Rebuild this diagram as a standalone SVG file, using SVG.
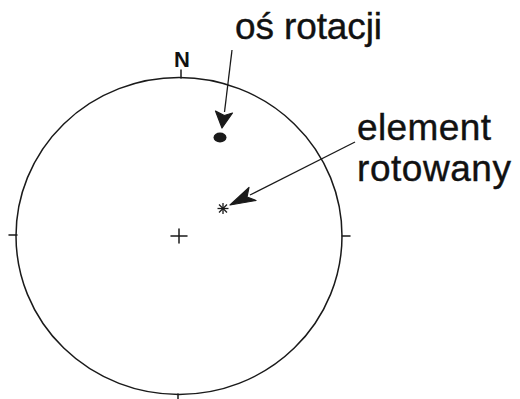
<svg xmlns="http://www.w3.org/2000/svg" width="520" height="399" viewBox="0 0 520 399">
<style>
.ln{fill:none;stroke:#1a1a1a;stroke-width:1.5;stroke-linecap:round}
.thin{fill:none;stroke:#1a1a1a;stroke-width:1.3}
.head{fill:#1a1a1a;stroke:#1a1a1a;stroke-width:1.2;stroke-linejoin:round}
.lbl{font-family:"Liberation Sans",Arial,sans-serif;font-size:37px;fill:#111;stroke:#111;stroke-width:0.4}
.n{font-family:"Liberation Sans",Arial,sans-serif;font-size:22px;font-weight:bold;fill:#111}
</style>
<rect width="520" height="399" fill="#ffffff"/>
<g id="net">
  <ellipse class="ln" cx="179" cy="236" rx="163" ry="158.5"/>
  <line class="ln" x1="181" y1="70" x2="181" y2="78"/>
  <line class="ln" x1="9" y1="235" x2="17" y2="235"/>
  <line class="ln" x1="342" y1="236" x2="350" y2="236"/>
  <line class="ln" x1="178" y1="394" x2="178" y2="399"/>
  <text class="n" x="182" y="67" text-anchor="middle">N</text>
</g>
<g id="center">
  <line class="ln" x1="171" y1="236" x2="187" y2="236"/>
  <line class="ln" x1="179" y1="229" x2="179" y2="243"/>
</g>
<g id="axis">
  <ellipse cx="220" cy="137.5" rx="6.5" ry="5" fill="#1a1a1a"/>
</g>
<g id="element">
  <g class="thin">
    <line x1="223" y1="203" x2="223" y2="214"/>
    <line x1="217.5" y1="208.5" x2="228.5" y2="208.5"/>
    <line x1="219" y1="204.5" x2="227" y2="212.5"/>
    <line x1="227" y1="204.5" x2="219" y2="212.5"/>
  </g>
</g>
<g id="label-axis">
  <text class="lbl" x="235" y="39" textLength="147">oś rotacji</text>
</g>
<g id="label-element">
  <text class="lbl" x="357" y="140" textLength="134">element</text>
  <text class="lbl" x="357" y="181" textLength="154">rotowany</text>
</g>
<g id="connectors">
  <line class="thin" x1="232" y1="50" x2="224.5" y2="112"/>
  <path class="head" d="M222,128 L215.5,111 L224.3,115.5 L232.5,113 Z"/>
  <line class="thin" x1="355" y1="142" x2="250" y2="195"/>
  <path class="head" d="M230,205 L249,187.5 L247,197 L256,200.5 Z"/>
</g>
</svg>
